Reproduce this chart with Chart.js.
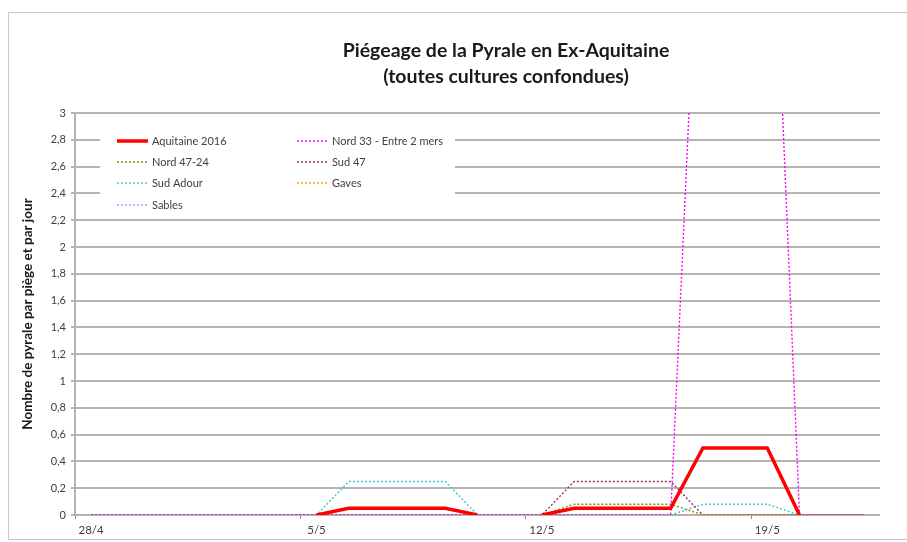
<!DOCTYPE html>
<html>
<head>
<meta charset="utf-8">
<script src="https://cdn.jsdelivr.net/npm/chart.js@4.4.0/dist/chart.umd.min.js"></script>
<style>
  html, body { margin:0; padding:0; background:#fff; width:907px; height:542px; overflow:hidden; }
  #frame { position:absolute; left:8px; top:12px; width:910px; height:528px; border:1px solid #c8c8c8; box-sizing:border-box; }
  #wrap { position:absolute; left:0; top:0; width:907px; height:542px; }
</style>
</head>
<body>
<div id="frame"></div>
<div id="wrap"><canvas id="c" width="907" height="542"></canvas></div>
<script>
// ---- data ----
const categories = ['28/4','29/4','30/4','1/5','2/5','3/5','4/5','5/5','6/5','7/5','8/5','9/5','10/5','11/5',
                    '12/5','13/5','14/5','15/5','16/5','17/5','18/5','19/5','20/5','21/5','22/5'];
const shownTickLabels = ['28/4','5/5','12/5','19/5'];
const titleLines = ['Piégeage de la Pyrale en Ex-Aquitaine', '(toutes cultures confondues)'];
const yAxisTitle = 'Nombre de pyrale par piège et par jour';

const aquitaine2016 = [null,null,null,null,null,null,null,0,0.05,0.05,0.05,0.05,0,null,0,0.05,0.05,0.05,0.05,0.5,0.5,0.5,0,null,null];
const nord33       = [0,0,0,0,0,0,0,0,0,0,0,0,0,0,0,0,0,0,0,5.3,5.6,5.7,0,0,0];
const nord4724     = [0,0,0,0,0,0,0,0,0,0,0,0,0,0,0,0.08,0.08,0.08,0.08,0,0,0,0,0,0];
const sud47        = [0,0,0,0,0,0,0,0,0,0,0,0,0,0,0,0.25,0.25,0.25,0.25,0,0,0,0,0,0];
const sudAdour     = [0,0,0,0,0,0,0,0,0.25,0.25,0.25,0.25,0,0,0,0,0,0,0,0.08,0.08,0.08,0,0,0];
const gaves        = [0,0,0,0,0,0,0,0,0,0,0,0,0,0,0,0,0,0,0,0,0,0,0,0,0];
const sables       = [0,0,0,0,0,0,0,0,0,0,0,0,0,0,0,0,0,0,0,0,0,0,0,0,0];

const DOT = [2,2];
function ds(label, data, color, width, dash) {
  return { label, data, borderColor: color, backgroundColor: color, borderWidth: width,
           borderDash: dash, pointRadius: 0, tension: 0, spanGaps: false, fill: false };
}
const datasets = [
  ds('Aquitaine 2016', aquitaine2016, '#ff0000', 3.5, []),
  ds('Nord 33 - Entre 2 mers', nord33, '#ff00ff', 1.4, DOT),
  ds('Nord 47-24', nord4724, '#8c8c00', 1.4, DOT),
  ds('Sud 47', sud47, '#993366', 1.4, DOT),
  ds('Sud Adour', sudAdour, '#33cccc', 1.4, DOT),
  ds('Gaves', gaves, '#ff9900', 1.4, DOT),
  ds('Sables', sables, '#9999ff', 1.4, DOT)
];

const GRID = '#b4b4b4';
const TXT = '#404040';

const titlePlugin = {
  id: 'titleLines',
  afterDraw(chart) {
    const ctx = chart.ctx;
    ctx.save();
    ctx.fillStyle = '#1a1a1a';
    ctx.font = 'bold 19.5px Lato';
    ctx.textAlign = 'center';
    ctx.textBaseline = 'middle';
    ctx.fillText(titleLines[0], 506, 51);
    ctx.fillText(titleLines[1], 506, 77);
    ctx.restore();
  }
};

const legendPlugin = {
  id: 'innerLegend',
  afterDraw(chart) {
    const ctx = chart.ctx;
    const items = chart.data.datasets;
    ctx.save();
    ctx.fillStyle = '#ffffff';
    ctx.fillRect(100, 127, 355, 87);
    const colX = [117, 297];
    const rowY = [141, 162, 183, 205];
    ctx.font = '11px Lato';
    ctx.textBaseline = 'middle';
    ctx.textAlign = 'left';
    items.forEach((d, i) => {
      const col = i % 2, row = Math.floor(i / 2);
      const x = colX[col], y = rowY[row];
      ctx.beginPath();
      ctx.strokeStyle = d.borderColor;
      ctx.lineWidth = d.borderWidth;
      ctx.setLineDash(d.borderDash || []);
      ctx.moveTo(x, y);
      ctx.lineTo(x + 31, y);
      ctx.stroke();
      ctx.setLineDash([]);
      ctx.fillStyle = TXT;
      ctx.fillText(d.label, x + 35, y);
    });
    ctx.restore();
  }
};

new Chart(document.getElementById('c'), {
  type: 'line',
  data: { labels: categories, datasets },
  plugins: [titlePlugin, legendPlugin],
  options: {
    responsive: false,
    animation: false,
    layout: { padding: { left: 8, top: 113, right: 27, bottom: 0 } },
    plugins: { legend: { display: false }, tooltip: { enabled: false }, title: { display: false } },
    scales: {
      x: {
        type: 'category',
        offset: true,
        afterFit(s) { s.height = 27; },
        grid: {
          offset: true,
          drawOnChartArea: false,
          drawTicks: true,
          tickLength: 4,
          color: (c) => (c.index % 7 === 0 ? '#8c8c8c' : 'rgba(0,0,0,0)'),
          lineWidth: 1
        },
        border: { display: false },
        ticks: {
          autoSkip: false,
          maxRotation: 0,
          padding: 4,
          color: TXT,
          font: { family: 'Lato', size: 11.5 },
          callback(v, i) { const l = categories[i]; return shownTickLabels.includes(l) ? l : ''; }
        }
      },
      y: {
        min: 0, max: 3,
        afterFit(s) { s.width = 67; },
        grid: { color: GRID, lineWidth: 2, tickLength: 4, drawTicks: true },
        border: { display: true, color: GRID, width: 2 },
        ticks: {
          stepSize: 0.2,
          padding: 5,
          color: TXT,
          font: { family: 'Lato', size: 11 },
          callback(v) { return (Math.round(v * 10) / 10).toString().replace('.', ','); }
        },
        title: {
          display: true,
          text: yAxisTitle,
          color: '#1a1a1a',
          font: { family: 'Lato', size: 13.5, weight: 'bold' },
          padding: { top: 12, bottom: 0 }
        }
      }
    }
  }
});
</script>
</body>
</html>
